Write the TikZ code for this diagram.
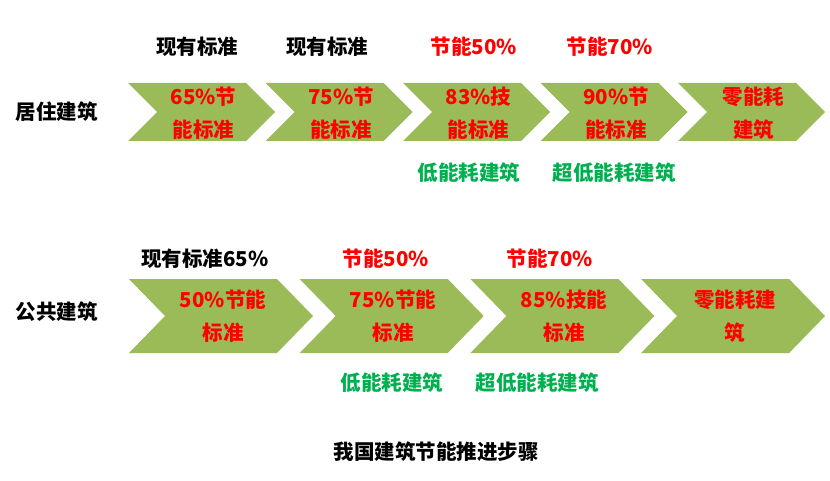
\documentclass[tikz,border=0pt]{standalone}
\usepackage{fontspec}
\setmainfont{Noto Sans CJK SC}
\definecolor{chevgreen}{HTML}{9BBB59}
\definecolor{txtgreen}{HTML}{00B050}
\definecolor{txtred}{HTML}{FF0000}
\tikzset{
  chevfill/.style={fill=chevgreen},
  lbl/.style={font=\bfseries\fontsize{20.5}{33}\selectfont, inner sep=0pt, align=center},
  redlbl/.style={lbl, text=txtred},
  greenlbl/.style={lbl, text=txtgreen},
  blacklbl/.style={lbl, text=black},
}
\newcommand\chevshape[5]{% x, ytop, w, h, notch
  \fill[chevfill] (#1,#2) -- ++(#3-#5,0) -- ++(#5,#4/2) -- ++(-#5,#4/2) -- ++(-#3+#5,0) -- ++(#5,-#4/2) -- cycle;}
\begin{document}
\begin{tikzpicture}[x=1pt,y=-1pt]
\useasboundingbox (0,0) rectangle (830,481);
% top row chevrons
\foreach \i in {0,...,4}{
  \pgfmathsetmacro\xl{128+137.5*\i}
  \chevshape{\xl}{83}{147}{58}{29}
}
% bottom row chevrons
\foreach \i in {0,...,3}{
  \pgfmathsetmacro\xl{129+170.7*\i}
  \chevshape{\xl}{279}{184}{74}{36}
}
% row labels
\node[blacklbl] (rowA) at (57,112) {居住建筑};
\node[blacklbl] (rowB) at (57,312) {公共建筑};
% top row texts
\node[redlbl] (a1) at (203.5,113) {65\%节\\能标准};
\node[redlbl] (a2) at (341,113) {75\%节\\能标准};
\node[redlbl] (a3) at (478.5,113) {83\%技\\能标准};
\node[redlbl] (a4) at (616,113) {90\%节\\能标准};
\node[redlbl] (a5) at (753.5,113) {零能耗\\建筑};
\node[blacklbl] (ta1) at (197,47) {现有标准};
\node[blacklbl] (ta2) at (327,47) {现有标准};
\node[redlbl] (ta3) at (474,47) {节能50\%};
\node[redlbl] (ta4) at (610,47) {节能70\%};
\node[greenlbl] (ga3) at (469,173) {低能耗建筑};
\node[greenlbl] (ga4) at (614,173) {超低能耗建筑};
% bottom row texts
\node[redlbl] (b1) at (223,316) {50\%节能\\标准};
\node[redlbl] (b2) at (393,316) {75\%节能\\标准};
\node[redlbl] (b3) at (564,316) {85\%技能\\标准};
\node[redlbl] (b4) at (735,316) {零能耗建\\筑};
\node[blacklbl] (tb1) at (205,259) {现有标准65\%};
\node[redlbl] (tb2) at (386,259) {节能50\%};
\node[redlbl] (tb3) at (550,259) {节能70\%};
\node[greenlbl] (gb2) at (392,383) {低能耗建筑};
\node[greenlbl] (gb3) at (537,383) {超低能耗建筑};
% caption
\node[blacklbl] (cap) at (436,452) {我国建筑节能推进步骤};
\end{tikzpicture}
\end{document}
